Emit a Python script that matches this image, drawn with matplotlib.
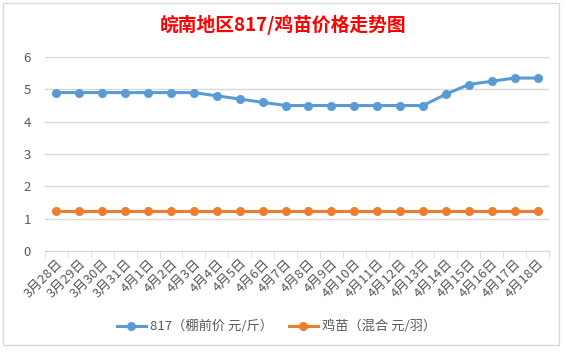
import matplotlib.pyplot as plt
from matplotlib.patches import Rectangle
import numpy as np

plt.rcParams['font.family'] = ['Noto Sans CJK SC', 'DejaVu Sans']

dates = ['3月28日', '3月29日', '3月30日', '3月31日', '4月1日', '4月2日', '4月3日',
         '4月4日', '4月5日', '4月6日', '4月7日', '4月8日', '4月9日', '4月10日',
         '4月11日', '4月12日', '4月13日', '4月14日', '4月15日', '4月16日',
         '4月17日', '4月18日']
price_817 = [4.9, 4.9, 4.9, 4.9, 4.9, 4.9, 4.9, 4.8, 4.7, 4.6, 4.5, 4.5, 4.5,
             4.5, 4.5, 4.5, 4.5, 4.85, 5.15, 5.25, 5.35, 5.35]
price_chick = [1.25] * 22
label_817 = '817（棚前价 元/斤）'
label_chick = '鸡苗（混合 元/羽）'
title = '皖南地区817/鸡苗价格走势图'

fig = plt.figure(figsize=(5.66, 3.52), dpi=100)
fig.patches.append(Rectangle((0.006, 0.02), 0.982, 0.972, transform=fig.transFigure,
                             fill=False, edgecolor='#d9d9d9', lw=1.0))

ax = fig.add_axes([0.0795, 0.287, 0.8905, 0.551])
x = np.arange(len(dates))
ax.plot(x, price_817, color='#5B9BD5', lw=2.2, marker='o', ms=5.5, label=label_817)
ax.plot(x, price_chick, color='#ED7D31', lw=2.2, marker='o', ms=5.5, label=label_chick)

ax.set_xlim(-0.5, len(dates) - 0.5)
ax.set_ylim(0, 6)
ax.set_yticks(range(7))
ax.yaxis.grid(True, color='#d9d9d9', lw=1)
ax.set_axisbelow(True)
for s in ['top', 'right', 'left']:
    ax.spines[s].set_visible(False)
ax.spines['bottom'].set_color('#d9d9d9')
ax.tick_params(axis='y', length=0, labelsize=9.5, labelcolor='#595959', pad=10)

ax.set_xticks(x)
ax.set_xticklabels(dates, rotation=45, ha='right', rotation_mode='anchor',
                   fontsize=9.5, color='#595959')
ax.tick_params(axis='x', which='major', length=0, pad=4)
ax.set_xticks(np.arange(-0.5, len(dates)), minor=True)
ax.tick_params(axis='x', which='minor', length=5, color='#d9d9d9')

fig.text(0.5, 0.93, title, ha='center', va='center', fontsize=13.5,
         fontweight='bold', color='#ff0000')

fig.legend(loc='center', bbox_to_anchor=(0.488, 0.072), ncol=2, frameon=False,
           fontsize=9.5, labelcolor='#595959', handlelength=2.2, handletextpad=0.3,
           columnspacing=1.2)

fig.savefig('out.png', dpi=100)
